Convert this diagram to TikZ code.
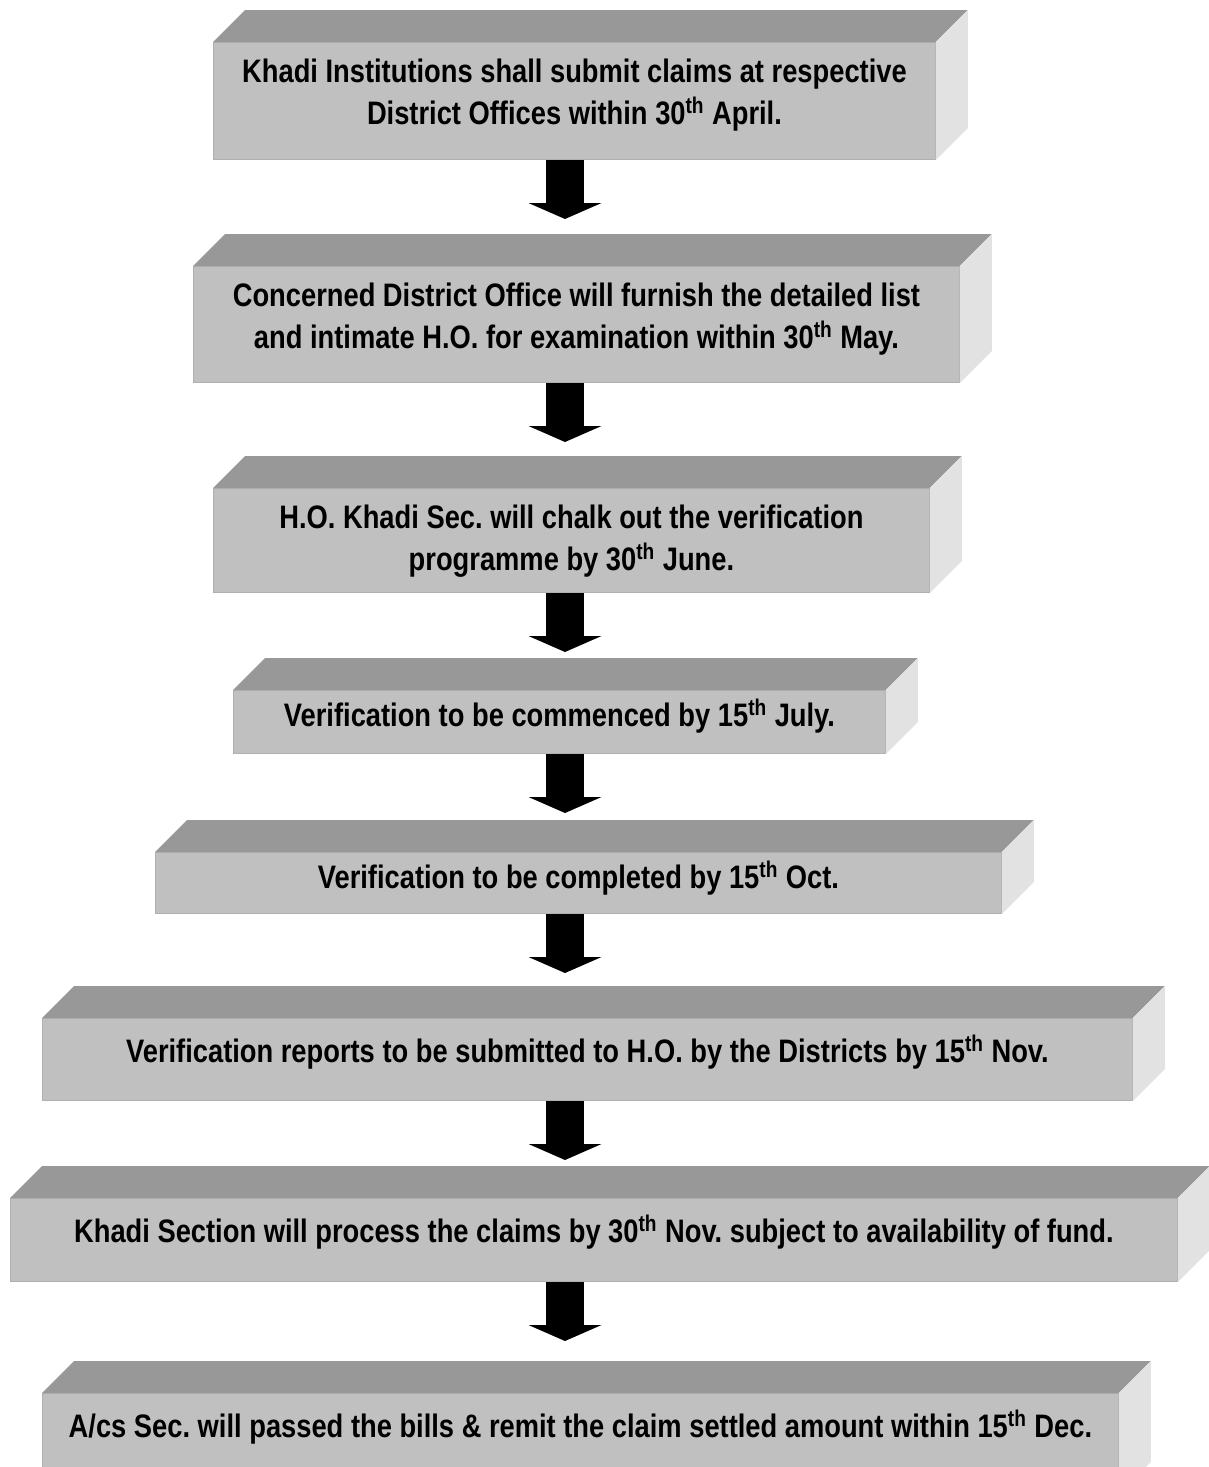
\documentclass[tikz,border=0pt]{standalone}
\usepackage{fontspec}
\newfontfamily\boxfont{Liberation Sans}[FakeStretch=0.84]
\usetikzlibrary{positioning,arrows.meta}
\definecolor{frontgray}{RGB}{192,192,192}
\definecolor{topgray}{RGB}{152,152,152}
\definecolor{sidegray}{RGB}{226,226,226}
\definecolor{edgegray}{RGB}{176,176,176}
\frenchspacing
\tikzset{
  front/.style={rectangle, fill=frontgray, draw=edgegray, line width=0.6pt, anchor=north west, inner sep=0pt},
  txt/.style={inner sep=0pt, align=center, font=\boxfont\bfseries\fontsize{18.5pt}{23.5pt}\selectfont},
  flow/.style={line width=0.76cm, -{Triangle[width=1.46cm, length=0.32cm, line width=0pt]}}
}
\begin{document}
\begin{tikzpicture}[x=0.02cm, y=-0.02cm]
\path [use as bounding box, fill=white] (0,0) rectangle (1208,1467);
\coordinate (ax) at (565,0);

\node (b1) [front, minimum width=14.44cm, minimum height=2.34cm] at (213,42) {};
\node (b2) [front, minimum width=15.32cm, minimum height=2.32cm] at (193,266) {};
\node (b3) [front, minimum width=14.32cm, minimum height=2.08cm] at (213,488) {};
\node (b4) [front, minimum width=13.04cm, minimum height=1.26cm] at (233,690) {};
\node (b5) [front, minimum width=16.92cm, minimum height=1.22cm] at (155,852) {};
\node (b6) [front, minimum width=21.8cm, minimum height=1.64cm] at (42,1018) {};
\node (b7) [front, minimum width=23.34cm, minimum height=1.66cm] at (10,1198) {};
\node (b8) [front, minimum width=21.52cm, minimum height=2cm] at (42,1393) {};

\foreach \i in {1,...,8} {
  \fill [topgray] (b\i.north west) -- ++(32,-32) -- ([shift={(32,-32)}]b\i.north east) -- (b\i.north east) -- cycle;
  \fill [sidegray] (b\i.north east) -- ++(32,-32) -- ([shift={(32,-32)}]b\i.south east) -- (b\i.south east) -- cycle;
}

\node (t1) [txt, below=0.34cm of b1.north] {Khadi Institutions shall submit claims at respective\\District Offices within 30\textsuperscript{th} April.};
\node (t2) [txt, below=0.34cm of b2.north] {Concerned District Office will furnish the detailed list\\and intimate H.O. for examination within 30\textsuperscript{th} May.};
\node (t3) [txt, below=0.34cm of b3.north] {H.O. Khadi Sec. will chalk out the verification\\programme by 30\textsuperscript{th} June.};
\node (t4) [txt, below=0.18cm of b4.north] {Verification to be commenced by 15\textsuperscript{th} July.};
\node (t5) [txt, below=0.18cm of b5.north] {Verification to be completed by 15\textsuperscript{th} Oct.};
\node (t6) [txt, below=0.34cm of b6.north] {Verification reports to be submitted to H.O. by the Districts by 15\textsuperscript{th} Nov.};
\node (t7) [txt, below=0.34cm of b7.north] {Khadi Section will process the claims by 30\textsuperscript{th} Nov. subject to availability of fund.};
\node (t8) [txt, below=0.34cm of b8.north] {A/cs Sec. will passed the bills \& remit the claim settled amount within 15\textsuperscript{th} Dec.};

\foreach \i/\j/\s in {1/2/0.94cm, 2/3/0.92cm, 3/4/0.76cm, 4/5/0.78cm, 5/6/0.9cm, 6/7/0.76cm, 7/8/1.04cm}
  \draw [flow, shorten >=\s] (b\i.south -| ax) -- (b\j.north -| ax);

\end{tikzpicture}
\end{document}
